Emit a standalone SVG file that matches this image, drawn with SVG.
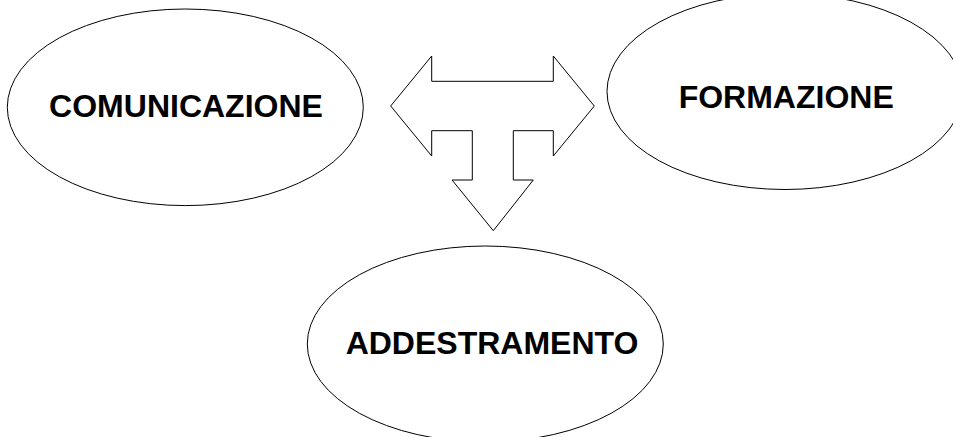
<svg xmlns="http://www.w3.org/2000/svg" width="953" height="437" viewBox="0 0 953 437">
<style>
.node ellipse{fill:#fff;stroke:#000;stroke-width:1}
.node text{font-family:"Liberation Sans",Arial,sans-serif;font-weight:bold;font-size:32px;fill:#000;text-anchor:middle}
.conn{fill:#fff;stroke:#000;stroke-width:1;stroke-linejoin:miter}
</style>
<rect width="953" height="437" fill="#fff"/>
<g id="connectors">
<polygon class="conn" points="390.7,106 431.7,56 431.7,81.3 553.3,81.3 553.3,56 594.3,106 553.3,156 553.3,130.7 513.3,130.7 513.3,180 533.3,180 493.3,230.7 452,180 472.3,180 472.3,130.7 431.7,130.7 431.7,156"/>
</g>
<g id="comunicazione" class="node">
<ellipse cx="185.3" cy="107.3" rx="178" ry="98.3"/>
<text x="186" y="116.7">COMUNICAZIONE</text>
</g>
<g id="formazione" class="node">
<ellipse cx="785" cy="91.5" rx="178" ry="98"/>
<text x="786.2" y="108.3">FORMAZIONE</text>
</g>
<g id="addestramento" class="node">
<ellipse cx="485.3" cy="344" rx="178" ry="98"/>
<text x="492" y="354.3">ADDESTRAMENTO</text>
</g>
</svg>
